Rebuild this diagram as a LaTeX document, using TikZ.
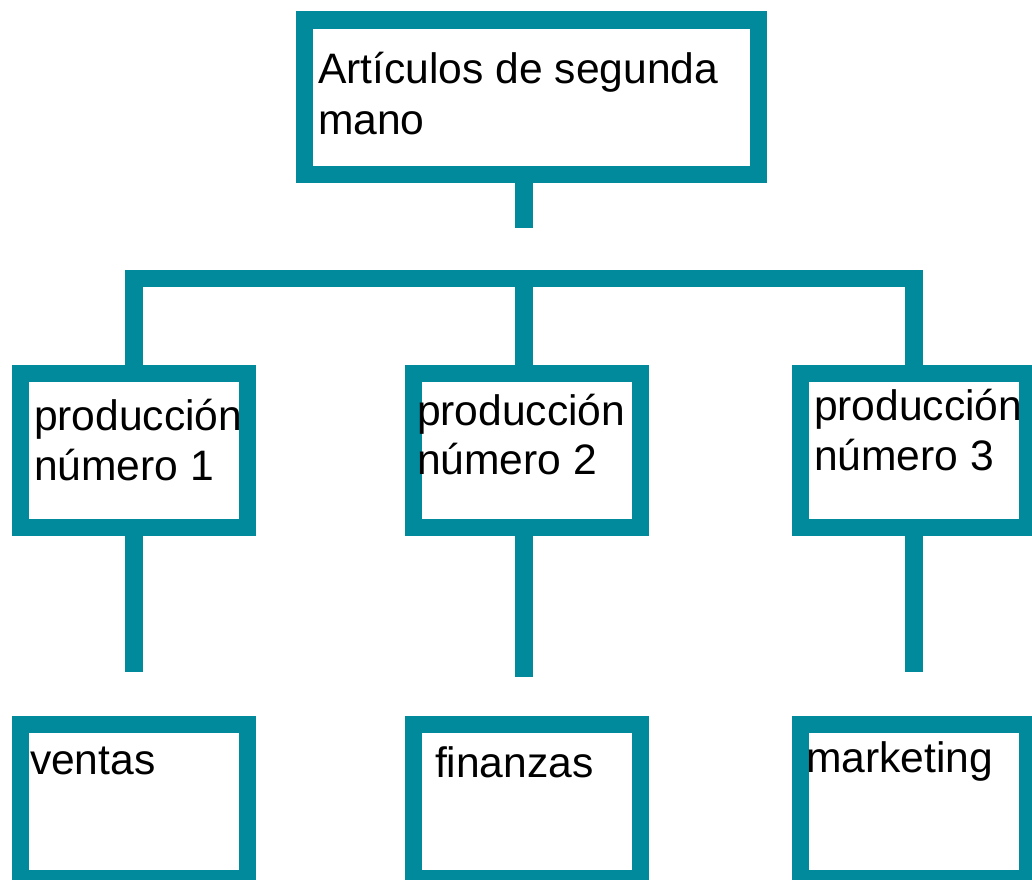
\documentclass[tikz,border=0pt]{standalone}
\usepackage{fontspec}
\setmainfont{Liberation Sans}
\definecolor{teal1}{HTML}{008A9B}
\begin{document}
\begin{tikzpicture}[x=1pt,y=-1pt,
  box/.style={draw=teal1,line width=17.5pt,fill=white,inner sep=0pt,outer sep=0pt,
    minimum width=227pt,minimum height=154.4pt},
  conn/.style={draw=teal1,line width=17.5pt,line cap=butt,line join=miter},
  txt/.style={anchor=base west,inner sep=0pt,outer sep=0pt,text=black,
    font=\fontsize{42.6pt}{50pt}\selectfont}]
\useasboundingbox (0,0) rectangle (1032,879);
% boxes
\node[box,minimum width=453.8pt,minimum height=154.5pt] (top) at (531.4,97) {};
\node[box] (m1) at (133.8,450.5) {};
\node[box] (m2) at (527.1,450.5) {};
\node[box] (m3) at (914,450.5) {};
\node[box,minimum height=154.2pt] (b1) at (133.8,801.6) {};
\node[box,minimum height=154.2pt] (b2) at (527.1,801.6) {};
\node[box,minimum height=154.2pt] (b3) at (914,801.6) {};
% connector coordinates
\coordinate (stubend) at (524,227.7);
\coordinate (barL) at (134,278.7);
\coordinate (barM) at (524,278.7);
\coordinate (barR) at (914,278.7);
\coordinate (d1) at (134,671.7);
\coordinate (d2) at (524,677.3);
\coordinate (d3) at (914,671.7);
% connectors
\draw[conn] (top.south -| stubend) -- (stubend);
\draw[conn] (m1.north -| barL) -- (barL) -- (barR) -- (m3.north -| barR);
\draw[conn] (barM) -- (m2.north -| barM);
\draw[conn] (m1.south -| d1) -- (d1);
\draw[conn] (m2.south -| d2) -- (d2);
\draw[conn] (m3.south -| d3) -- (d3);
% texts
\node[txt] (t0a) at (318,83) {Artículos de segunda};
\node[txt] (t0b) at (318,134) {mano};
\node[txt] (t1a) at (34,430) {producción};
\node[txt] (t1b) at (34,480) {número 1};
\node[txt] (t2a) at (417,425) {producción};
\node[txt] (t2b) at (417,474) {número 2};
\node[txt] (t3a) at (814,420) {producción};
\node[txt] (t3b) at (814,470) {número 3};
\node[txt] (t4) at (30,774) {ventas};
\node[txt] (t5) at (435,777) {finanzas};
\node[txt] (t6) at (806,772) {marketing};
\end{tikzpicture}
\end{document}
